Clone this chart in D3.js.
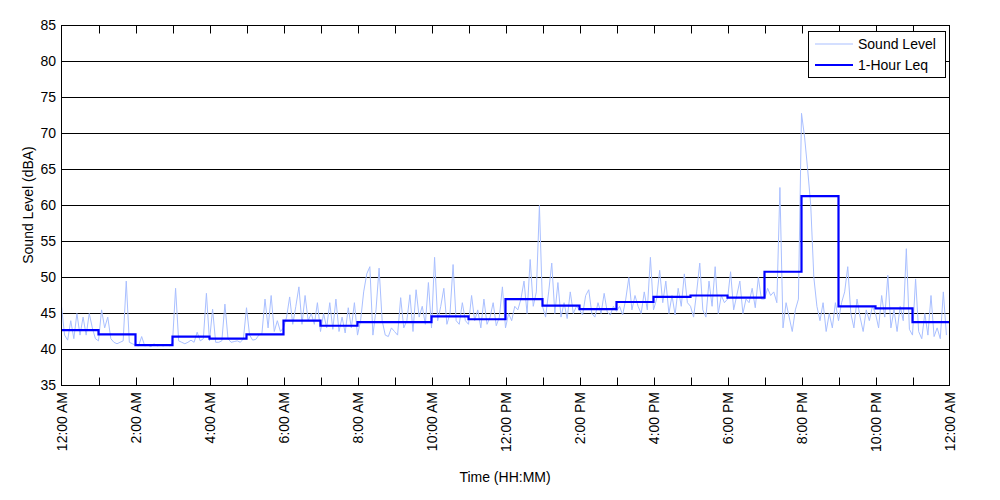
<!DOCTYPE html>
<html><head><meta charset="utf-8">
<script src="https://cdn.jsdelivr.net/npm/d3@7"></script>
<style>
body{margin:0;background:#fff;}
text{font-family:"Liberation Sans",Arial,sans-serif;font-size:14px;fill:#000;}
</style></head>
<body><svg id="c" width="1000" height="500"></svg>
<script>
// Hourly 1-hour Leq (dBA), hour 0..23
const leqHours = [0,1,2,3,4,5,6,7,8,9,10,11,12,13,14,15,16,17,18,19,20,21,22,23];
const leqValues = [42.7,42.1,40.6,41.8,41.5,42.1,44.0,43.3,43.8,43.8,44.6,44.2,47.0,46.1,45.6,46.6,47.3,47.5,47.2,50.8,61.3,46.0,45.7,43.8];
// Sound level samples, 5-minute interval (12 per hour)
const soundLevel = [
 46,42,41.3,44,41.5,45,42,44.5,42,45,43,41.5,
 41.2,45.5,43,44.5,41.5,41,40.8,41,41.2,49.5,41,40.8,
 40.6,40.5,41.8,40.5,40.6,40.4,40.8,40.5,40.6,40.5,40.7,40.5,
 41,48.5,41.2,41,40.8,41,41.3,41,42.4,41.2,41.5,47.8,
 41.2,45.6,41,41,41.2,46.3,41.5,41,41.1,41.2,41,41.5,
 45.8,42,41.3,41.4,42,42.2,47,43,47.5,42.5,44,42.5,
 43,44.5,47.3,43.5,46,48.7,43.5,47.5,44,45,43.5,46.5,
 42.5,45,43,46.5,42.8,47,42.5,44.5,42.3,45.8,43,46.5,
 42,44,48,50.5,51.5,42,45.5,51.3,44,42,41.8,43,
 42.5,42,47.2,43,44,47.6,42.5,48.3,44.5,46,43.5,49.3,
 43,52.8,44,46,48.5,43.5,45,51.8,44,43.5,46.5,44,
 43.5,47.5,44,45.5,43,47,43.5,44.5,46.5,43.3,44.5,48.7,
 43,45,44,46,45.5,47,49.5,45,52.5,46,48,60,
 46,44.5,48,52,45,49.3,44.5,46.5,44.3,48,45,46,
 45.5,44.8,47.5,48.3,45,44.5,46.5,45,47.8,45.2,44.8,46,
 45.3,46,44.8,47,50,45.5,47.5,46,45,48,45.5,52.8,
 45.5,47,51,46.5,49.5,45,47.5,44.8,48.5,46,50.5,46.5,
 46,44.5,48,52,45.5,44.5,49.5,46,51.5,45,47.5,46.5,
 47,50.8,45.5,47.5,49.5,45,47,46.5,48.5,45.8,50,47,
 47,48.5,47.5,48,46.5,62.5,43,46.5,44.5,42.5,45.5,47,
 72.8,69.5,65,60,50,46,44,46.5,42.5,45,43,46.5,
 44,46.5,48,51.5,45,43,47,44.5,42.5,45.5,44,46,
 45,43,47.5,44.5,50.3,43,45.5,42.5,46,44,54,42.8,
 42,49.8,42.5,41.5,45,42,47.5,41.8,43,41.5,48,42
];
const yTicks = [35,40,45,50,55,60,65,70,75,80,85];
const xLabelHours = [0,2,4,6,8,10,12,14,16,18,20,22,24];
const xLabels = ["12:00 AM","2:00 AM","4:00 AM","6:00 AM","8:00 AM","10:00 AM","12:00 PM","2:00 PM","4:00 PM","6:00 PM","8:00 PM","10:00 PM","12:00 AM"];
const seriesNames = ["Sound Level","1-Hour Leq"];

const svg = d3.select("#c");
const x = d3.scaleLinear().domain([0,24]).range([61.5,949.5]);
const y = d3.scaleLinear().domain([35,85]).range([385.5,25.5]);

// gridlines
svg.append("g").selectAll("line").data(yTicks.filter(v=>v>35&&v<85)).join("line")
  .attr("x1",x(0)).attr("x2",x(24)).attr("y1",d=>y(d)).attr("y2",d=>y(d))
  .attr("stroke","#000").attr("stroke-width",1);

// hour ticks top & bottom (inward)
const hrs = d3.range(1,24);
svg.append("g").selectAll("line").data(hrs).join("line")
  .attr("x1",d=>Math.round(x(d))+0.5).attr("x2",d=>Math.round(x(d))+0.5)
  .attr("y1",y(35)).attr("y2",y(35)-8).attr("stroke","#000");
svg.append("g").selectAll("line").data(hrs).join("line")
  .attr("x1",d=>Math.round(x(d))+0.5).attr("x2",d=>Math.round(x(d))+0.5)
  .attr("y1",y(85)).attr("y2",y(85)+8).attr("stroke","#000");

// sound level line
const soundPts = soundLevel.map((v,i)=>[i/12,v]);
svg.append("path").datum(soundPts)
  .attr("d",d3.line().x(d=>x(d[0])).y(d=>y(d[1])))
  .attr("fill","none").attr("stroke","#a9bfff").attr("stroke-width",1);

// Leq step line
const leqPts = leqHours.map((h,i)=>[h,leqValues[i]]).concat([[24,leqValues[leqValues.length-1]]]);
svg.append("path").datum(leqPts)
  .attr("d",d3.line().curve(d3.curveStepAfter).x(d=>x(d[0])).y(d=>y(d[1])))
  .attr("fill","none").attr("stroke","#0000ff").attr("stroke-width",2.2);

// frame
svg.append("rect").attr("x",x(0)).attr("y",y(85)).attr("width",x(24)-x(0)).attr("height",y(35)-y(85))
  .attr("fill","none").attr("stroke","#000");

// y tick labels
svg.append("g").selectAll("text").data(yTicks).join("text")
  .attr("x",56).attr("y",d=>y(d)).attr("dy","0.35em").attr("text-anchor","end").text(d=>d);

// x tick labels
svg.append("g").selectAll("text").data(xLabelHours).join("text")
  .attr("transform",(d,i)=>`translate(${x(d)+5},${392}) rotate(-90)`)
  .attr("text-anchor","end").text((d,i)=>xLabels[i]);

// axis titles
svg.append("text").attr("transform","translate(33,205) rotate(-90)").attr("text-anchor","middle").text("Sound Level (dBA)");
svg.append("text").attr("x",505).attr("y",482).attr("text-anchor","middle").text("Time (HH:MM)");

// legend
const lg = svg.append("g");
lg.append("rect").attr("x",808.5).attr("y",31.5).attr("width",137).attr("height",46).attr("fill","#fff").attr("stroke","#000");
const cols = ["#a9bfff","#0000ff"], widths=[1,2.2];
seriesNames.forEach((n,i)=>{
  const yy = 44 + i*21;
  lg.append("line").attr("x1",815).attr("x2",853).attr("y1",yy).attr("y2",yy).attr("stroke",cols[i]).attr("stroke-width",widths[i]);
  lg.append("text").attr("x",858).attr("y",yy).attr("dy","0.35em").text(n);
});
</script></body></html>
